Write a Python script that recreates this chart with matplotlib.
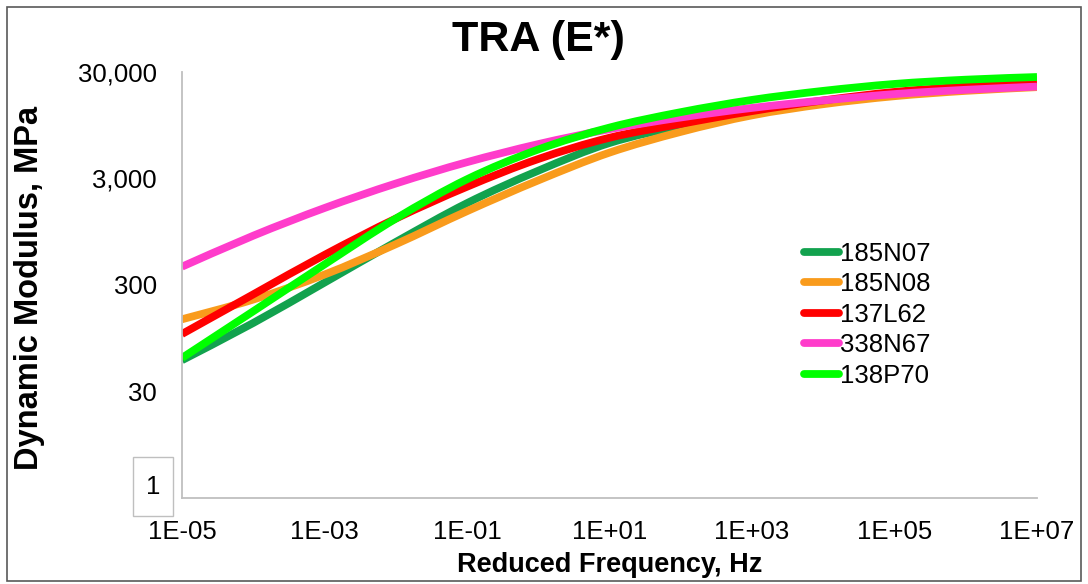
import matplotlib
matplotlib.use("Agg")
import numpy as np
import matplotlib.pyplot as plt
from matplotlib.path import Path
from matplotlib.patches import PathPatch, Rectangle
from matplotlib.lines import Line2D
from matplotlib.ticker import FixedLocator, NullLocator

plt.rcParams['font.family'] = ['Liberation Sans', 'DejaVu Sans']

# Reduced frequency (Hz) and dynamic modulus |E*| (MPa) for each mix
freq_hz = [1e-5, 1e-4, 1e-3, 1e-2, 1e-1, 1e0, 1e1, 1e2, 1e3, 1e4, 1e5, 1e6, 1e7]
mix_names = ["185N07", "185N08", "137L62", "338N67", "138P70"]
e_185N07 = [59, 132, 316, 760, 1760, 3550, 6460, 9330, 12300, 15490, 18200, 20420, 22130]
e_185N08 = [143, 219, 376, 724, 1480, 2880, 5250, 8220, 11750, 14960, 17780, 19950, 21630]
e_137L62 = [104, 245, 575, 1260, 2510, 4570, 7240, 9770, 12880, 16220, 19500, 21880, 23710]
e_338N67 = [446, 871, 1585, 2690, 4270, 6310, 8710, 11220, 13800, 16220, 18620, 20420, 21880]
e_138P70 = [62, 170, 468, 1260, 2950, 5620, 9020, 12590, 16410, 19950, 23170, 25410, 26920]
mix_colors = ["#12A24E", "#F99B1C", "#FF0000", "#FF3CCB", "#00FF00"]

y_ticks = [30, 300, 3000, 30000]
y_tick_labels = ["30", "300", "3,000", "30,000"]
x_ticks = [1e-5, 1e-3, 1e-1, 1e1, 1e3, 1e5, 1e7]
x_tick_labels = ["1E-05", "1E-03", "1E-01", "1E+01", "1E+03", "1E+05", "1E+07"]

W, H = 1088, 584
fig = plt.figure(figsize=(W / 100, H / 100), dpi=100)
ax = fig.add_axes([182 / W, 1 - 498 / H, (1037 - 182) / W, (498 - 72) / H])
ax.set_xscale("log")
ax.set_yscale("log")
ax.set_xlim(1e-5, 1e7)
ax.set_ylim(3, 30000)


def smooth_path(xs, ys):
    """Smoothed (Catmull-Rom style) bezier path through the points, built in log space."""
    lx = np.log10(np.asarray(xs, float))
    ly = np.log10(np.asarray(ys, float))
    pts = np.column_stack([lx, ly])
    n = len(pts)
    verts = [pts[0]]
    codes = [Path.MOVETO]
    for i in range(n - 1):
        p0 = pts[max(i - 1, 0)]
        p1 = pts[i]
        p2 = pts[i + 1]
        p3 = pts[min(i + 2, n - 1)]
        c1 = p1 + (p2 - p0) / 6.0
        c2 = p2 - (p3 - p1) / 6.0
        verts += [c1, c2, p2]
        codes += [Path.CURVE4] * 3
    verts = 10 ** np.array(verts)
    return Path(verts, codes)


series = [e_185N07, e_185N08, e_137L62, e_338N67, e_138P70]
handles = []
for name, vals, col in zip(mix_names, series, mix_colors):
    patch = PathPatch(smooth_path(freq_hz, vals), facecolor="none", edgecolor=col,
                      lw=5.6, capstyle="butt", joinstyle="round", transform=ax.transData)
    ax.add_patch(patch)
    handles.append(Line2D([], [], color=col, lw=5.6, solid_capstyle="round", label=name))

# axes styling
for side in ("top", "right"):
    ax.spines[side].set_visible(False)
for side in ("left", "bottom"):
    ax.spines[side].set_color("#BFBFBF")
    ax.spines[side].set_linewidth(1.3)

ax.yaxis.set_major_locator(FixedLocator(y_ticks))
ax.yaxis.set_minor_locator(NullLocator())
ax.set_yticklabels(y_tick_labels)
ax.xaxis.set_major_locator(FixedLocator(x_ticks))
ax.xaxis.set_minor_locator(NullLocator())
ax.set_xticklabels(x_tick_labels)
ax.tick_params(axis="both", length=0, labelsize=18.5, colors="#000000")
ax.tick_params(axis="y", pad=18)
ax.tick_params(axis="x", pad=16)

ax.set_title("TRA (E*)", fontsize=31, fontweight="bold", pad=0, x=(538 - 182) / (1037 - 182),
              y=1 + (72 - 40) / (498 - 72), va="center")
fig.text(30 / W, 1 - 288 / H, "Dynamic Modulus, MPa", rotation=90, fontsize=23.5,
         fontweight="bold", ha="center", va="center")
fig.text(610 / W, 1 - 565 / H, "Reduced Frequency, Hz", fontsize=19.5,
         fontweight="bold", ha="center", va="center")

# boxed label at the lower end of the value axis
fig.patches.append(Rectangle((133 / W, 1 - 516 / H), 40 / W, 59 / H, transform=fig.transFigure,
                             facecolor="white", edgecolor="#BFBFBF", lw=1.0))
fig.text(153 / W, 1 - 487 / H, "1", fontsize=18.5, ha="center", va="center")

leg = ax.legend(handles=handles, loc="upper left", bbox_to_anchor=(804 / W, 1 - 242 / H),
                bbox_transform=fig.transFigure, frameon=False, fontsize=18.5,
                handlelength=1.35, handletextpad=0.05, labelspacing=0.25, borderpad=0,
                borderaxespad=0)

# outer chart border
fig.patches.append(Rectangle((7 / W, 1 - 581 / H), (1081 - 7) / W, (581 - 7) / H,
                             transform=fig.transFigure, facecolor="none",
                             edgecolor="#595959", lw=1.2))

fig.savefig("out.png", dpi=100)
